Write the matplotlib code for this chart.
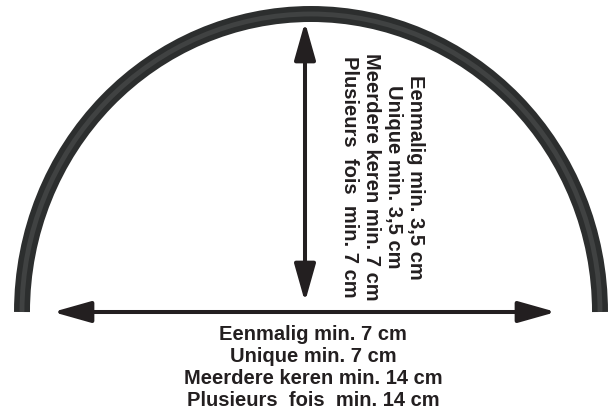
import matplotlib
matplotlib.use('Agg')
import matplotlib.pyplot as plt
from matplotlib.patches import Arc

# Textos do esquema (dimensões mínimas)
ALTURA_LINHAS = ['Eenmalig min. 3,5 cm',
                 'Unique min. 3,5 cm',
                 'Meerdere keren min. 7 cm',
                 'Plusieurs  fois  min. 7 cm']
LARGURA_LINHAS = ['Eenmalig min. 7 cm',
                  'Unique min. 7 cm',
                  'Meerdere keren min. 14 cm',
                  'Plusieurs  fois  min. 14 cm']

# Geometria em pixels da imagem
ARCO_CENTRO = (311, 312)
ARCO_RAIO_X = 289
ARCO_RAIO_Y = 298
SETA_V = [(305, 302), (305, 22)]
SETA_H = [(556, 312), (53, 312)]

COR_TUBO = '#2c2e2e'
COR_SETA = '#231f20'

plt.rcParams['font.family'] = ['Liberation Sans Narrow', 'Liberation Sans', 'DejaVu Sans']

fig = plt.figure(figsize=(6.14, 4.12), dpi=100)
ax = fig.add_axes([0, 0, 1, 1])
ax.set_xlim(0, 614)
ax.set_ylim(412, 0)
ax.axis('off')

# tubo (meio arco)
ax.add_patch(Arc(ARCO_CENTRO, 2 * ARCO_RAIO_X, 2 * ARCO_RAIO_Y, theta1=180, theta2=360,
                 lw=11.5, color=COR_TUBO, capstyle='butt'))
ax.add_patch(Arc(ARCO_CENTRO, 2 * ARCO_RAIO_X, 2 * ARCO_RAIO_Y, theta1=180, theta2=360,
                 lw=3.5, color='#404242', capstyle='butt'))

# setas
props = dict(arrowstyle='<|-|>,head_length=2.3,head_width=0.65', lw=2.9,
             color=COR_SETA, shrinkA=0, shrinkB=0, mutation_scale=10)
ax.annotate('', xy=SETA_V[1], xytext=SETA_V[0], arrowprops=props)
ax.annotate('', xy=SETA_H[1], xytext=SETA_H[0], arrowprops=props)

# textos
ax.text(382, 177, '\n'.join(ALTURA_LINHAS), rotation=270, ha='center', va='center',
        multialignment='center', fontsize=14.5, fontweight='bold', color=COR_SETA,
        linespacing=1.2)
ax.text(313, 367, '\n'.join(LARGURA_LINHAS), ha='center', va='center',
        multialignment='center', fontsize=14.5, fontweight='bold', color=COR_SETA,
        linespacing=1.2)

fig.savefig('out.png', dpi=100)
